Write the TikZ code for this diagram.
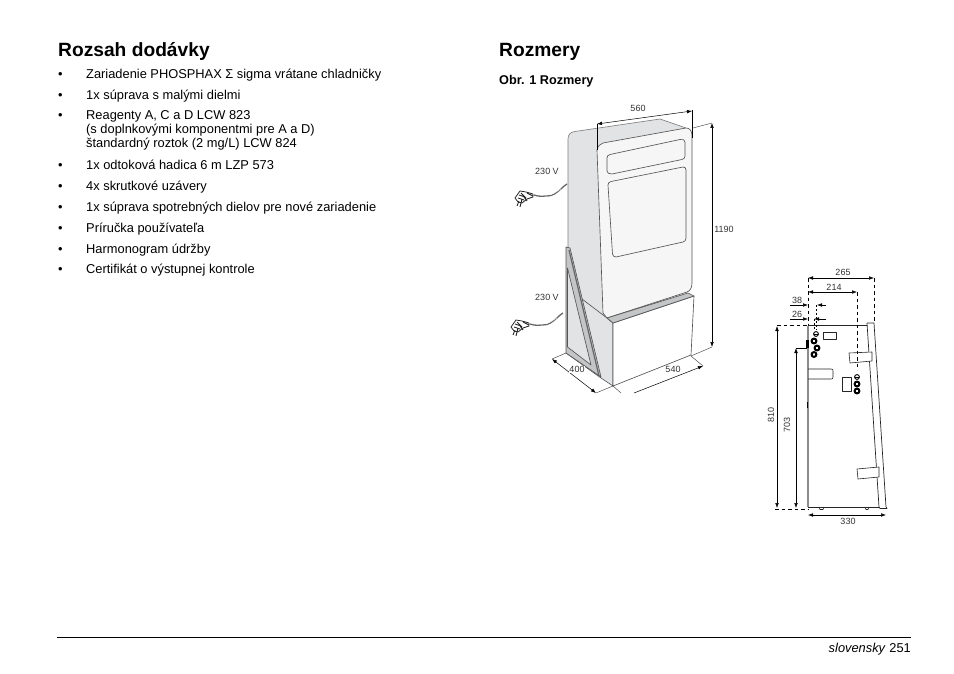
\documentclass[tikz,border=0pt]{standalone}
\usepackage{fontspec}
\setmainfont{Liberation Sans}
\usetikzlibrary{arrows.meta}
\definecolor{sidegrey}{HTML}{E2E3E5}
\definecolor{stripgrey}{HTML}{C4C5C7}
\definecolor{panelwhite}{HTML}{F6F6F6}
\definecolor{edgegrey}{HTML}{555555}
\tikzset{
  x=1pt,y=-1pt,
  head/.style={anchor=base west,font=\fontsize{19.2}{22}\selectfont\bfseries},
  body/.style={anchor=base west,font=\fontsize{12.85}{14}\selectfont,inner sep=0pt},
  bul/.style={anchor=base west,font=\fontsize{12.85}{14}\selectfont,inner sep=0pt},
  dimlab/.style={font=\fontsize{9}{10}\selectfont,text=black!80,inner sep=0pt},
  edge/.style={draw=edgegrey,line width=.65pt,line join=round},
  dimline/.style={draw=black,line width=.5pt,{Latex[length=5pt,width=3.6pt]}-{Latex[length=5pt,width=3.6pt]}},
  oneend/.style={draw=black,line width=.5pt,-{Latex[length=5pt,width=3.6pt]}},
  wit/.style={draw=black!80,line width=.4pt},
  dashline/.style={draw=black,line width=.6pt,dash pattern=on 3.5pt off 3pt},
  partline/.style={draw=black!85,line width=.6pt,line join=round},
  ring/.style={draw=black,line width=2pt,fill=white},
}
\newcommand{\plugat}[2]{%
  \begin{scope}[shift={(#1,#2)}]
    \draw[black!60,line width=1.3pt] (14,-1) .. controls (19,1) and (24,0) .. (27,0) .. controls (33,0) and (36,-3) .. (41,-7) .. controls (43,-9) and (45,-11) .. (47,-12);
    \draw[white,line width=.3pt] (24,0) -- (27,0) (30,-1) .. controls (33,-2) and (36,-4) .. (41,-7);
    \draw[black!85,line width=.8pt,fill=white,line join=round] (-5,2) -- (0,-5) -- (6,-4) -- (13,-2) -- (13,1) -- (7,3) -- (2,7) -- (-2,6) -- cycle;
    \draw[black!85,line width=.9pt] (-1,5) -- (-3,10) (2,3) -- (0,11) (4,1) -- (7,5) (-1,-1) -- (5,1) (1,-3) -- (6,2) (7,-3) -- (13,0) (-2,2) -- (4,4);
  \end{scope}}
\begin{document}
\begin{tikzpicture}
\useasboundingbox (0,0) rectangle (954,674);
% ---- left column text
\node[head,inner sep=0pt] (h1) at (58,56.6) {Rozsah dodávky};
\foreach \nm/\yy/\tx in {a/78.6/Zariadenie PHOSPHAX Σ sigma vrátane chladničky,
  b/99.6/1x súprava s malými dielmi,
  c/120/Reagenty A{,} C a D LCW 823,
  d/169.6/1x odtoková hadica 6 m LZP 573,
  e/190/4x skrutkové uzávery,
  f/211.6/1x súprava spotrebných dielov pre nové zariadenie,
  g/232.6/Príručka používateľa,
  h/253/Harmonogram údržby,
  i/273/Certifikát o výstupnej kontrole}{
  \node[bul] (bul\nm) at (58,\yy) {•};
  \node[body] (txt\nm) at (86,\yy) {\tx};
}
\node[body] (txtc2) at (86,134) {(s doplnkovými komponentmi pre A a D)};
\node[body] (txtc3) at (86,148) {štandardný roztok (2 mg/L) LCW 824};
% ---- right column
\node[head,inner sep=0pt] (h2) at (499,56.6) {Rozmery};
\node[anchor=base west,inner sep=0pt,font=\fontsize{12.7}{14}\selectfont\bfseries] (cap) at (499,84.7) {Obr. 1 Rozmery};
% plugs (behind the cabinet)
\plugat{520}{196}
\plugat{516}{325}
% ---- cabinet
\fill[sidegrey] (568,248) -- (568,139) .. controls (568,134) and (571,132) .. (575,131.5) -- (660,119) -- (686,128) -- (603,143) .. controls (600,144) and (598,146) .. (597,150) -- (607,318) -- (582,299) -- (582,340) -- (568,340) -- cycle;
\draw[edge,draw=black!50] (568,248) -- (568,139) .. controls (568,134) and (571,132) .. (575,131.5) -- (660,119) -- (686,128);
\draw[edge,fill=panelwhite] (597,150) .. controls (598,146) and (600,144) .. (603,143) -- (686,128) .. controls (690,128) and (692,131) .. (692,136) -- (692,283) .. controls (692,288) and (690,291) .. (687,292) -- (607,318) -- (603,313) -- cycle;
\draw[edge] (610,154.5) -- (680,139.5) .. controls (683,139) and (685,140) .. (685,142) -- (685,156) .. controls (685,158) and (684,159) .. (682,159.5) -- (612,174) .. controls (609,174) and (607,173) .. (607,171) -- (607,158) .. controls (607,156) and (608,155) .. (610,154.5) -- cycle;
\draw[edge] (611,181.5) -- (683,167) .. controls (685,167) and (686,168) .. (686,170) -- (686,238) .. controls (686,240) and (685,241.5) .. (683,242) -- (616,257) .. controls (614,257) and (613,256) .. (612.5,254) -- (608,185) .. controls (608,183) and (609,182) .. (611,181.5) -- cycle;
% ---- base
\draw[edge,fill=sidegrey] (582,299) -- (607,318) -- (613,323) -- (613,386) -- (601,378) -- (566,353) -- (582,340) -- cycle;
\draw[edge,fill=white] (613,323) -- (694,296) -- (691,355) -- (613,386) -- cycle;
\draw[edge,fill=stripgrey] (607,318) -- (688,293) -- (694,296) -- (613,323) -- cycle;
% triangular bracket
\draw[edge,fill=stripgrey] (566,247) -- (570,248) -- (601,377) -- (566,353) -- cycle;
\fill[sidegrey] (567.5,268) -- (591,365) -- (567.5,347) -- cycle;
\draw[edge] (567.5,268) -- (591,365) -- (567.5,347) -- cycle;
\draw[black!60,line width=1.2pt] (569,250) -- (599,376);
% ---- dimensions, 3-D view
\coordinate (d560a) at (597,124); \coordinate (d560b) at (692,111);
\draw[black,line width=.8pt] (d560a) -- (597,150) (692,110) -- (692,138);
\draw[dimline] (d560a) -- (d560b);
\node[dimlab] (l560) at (638,108) {560};
\coordinate (d1190a) at (712,123); \coordinate (d1190b) at (712,347);
\draw[wit] (693,128) -- (d1190a) (691,356) -- (d1190b);
\draw[dimline] (d1190a) -- (d1190b);
\node[dimlab] (l1190) at (724,229) {1190};
\coordinate (d400a) at (552,359); \coordinate (d400b) at (596,393);
\draw[wit] (566,353) -- (d400a) (613,386) -- (d400b) (613,386) -- (621,393);
\draw[dimline] (d400a) -- (d400b);
\node[dimlab,fill=white,inner sep=.5pt] (l400) at (577,369.5) {400};
\coordinate (d540a) at (634,393); \coordinate (d540b) at (703,366);
\draw[wit] (691,356) -- (d540b);
\draw[oneend] (d540a) -- (d540b);
\node[dimlab] (l540) at (673,369.5) {540};
\node[dimlab] (v1) at (547,171) {230 V};
\node[dimlab] (v2) at (547,297) {230 V};
% ---- side view
\draw[draw=black!45,line width=1.5pt] (808,326) -- (808,507);
\draw[partline,line width=.8pt] (808,325.5) -- (867,325.5) (808,507) -- (879,507);
\draw[partline,line width=.7pt] (867,323) -- (874,323) -- (886,507) -- (887,508.5) -- (880,508.5) -- (879,507) -- (867,323);
\draw[partline] (823,332) rectangle (836,339);
\draw[partline] (842,377) rectangle (851,391);
\draw[partline] (808,369) -- (831,369) .. controls (833,369) and (833,370) .. (833,371) -- (833,377) .. controls (833,379) and (832,379) .. (831,379) -- (808,379);
\draw[partline,fill=white] (849,353) -- (872,352) -- (872,361) -- (850,363) -- cycle;
\draw[partline,fill=white] (857,469) -- (879,467) -- (879,477) -- (858,479) -- cycle;
\draw[partline] (819,507) -- (820,509.5) -- (823,509.5) -- (824,507) (865,507) -- (866,509.5) -- (868,509.5) -- (869,507);
\fill[black] (806,340) rectangle (809,348);
\fill[black] (806.5,402) rectangle (808,408);
\draw[black,line width=.9pt,fill=white] (816,334) circle (2.4);
\draw[black,line width=.6pt] (813.6,334) -- (818.4,334);
\draw[ring] (814,341) circle (2.4);
\draw[ring] (817,348) circle (2.4);
\draw[ring] (814,354.5) circle (2.4);
\draw[black,line width=.9pt,fill=white] (857,377) circle (2.4);
\draw[black,line width=.6pt] (854.6,377) -- (859.4,377);
\draw[ring] (857,384) circle (2.4);
\draw[ring] (857,391) circle (2.4);
% dashed witness lines
\draw[dashline] (808,278) -- (808,325);
\draw[dashline] (874,278) -- (874,323);
\draw[dashline] (857,292) -- (857,370);
\draw[dashline,dash pattern=on 2pt off 2pt] (816.5,305) -- (816.5,330);
\draw[dashline,dash pattern=on 2pt off 2pt] (814,319) -- (814,330);
\draw[dashline] (777,325.5) -- (808,325.5);
\draw[dashline] (775,509) -- (808,509);
% dimension lines
\coordinate (s265a) at (808,278); \coordinate (s265b) at (874,278);
\draw[dimline] (s265a) -- (s265b);
\node[dimlab] (l265) at (843,272) {265};
\coordinate (s214a) at (808,292); \coordinate (s214b) at (857,292);
\draw[dimline] (s214a) -- (s214b);
\node[dimlab] (l214) at (834,287) {214};
\coordinate (s38a) at (790,305); \coordinate (s38b) at (808,305);
\coordinate (s38c) at (826,305); \coordinate (s38d) at (817,305);
\draw[oneend] (s38a) -- (s38b); \draw[oneend] (s38c) -- (s38d);
\node[dimlab] (l38) at (797,300) {38};
\coordinate (s26a) at (790,319); \coordinate (s26b) at (808,319);
\coordinate (s26c) at (826,319); \coordinate (s26d) at (814,319);
\draw[oneend] (s26a) -- (s26b); \draw[oneend] (s26c) -- (s26d);
\node[dimlab] (l26) at (797,314) {26};
\coordinate (s810a) at (777,326); \coordinate (s810b) at (777,508);
\draw[dimline] (s810a) -- (s810b);
\node[dimlab,rotate=90] (l810) at (771,415) {810};
\coordinate (s703a) at (796,348); \coordinate (s703b) at (796,508);
\draw[dimline] (s703a) -- (s703b);
\draw[black,line width=.5pt] (s703a) -- (807,348);
\node[dimlab,rotate=90] (l703) at (787,425) {703};
\coordinate (s330a) at (808,515); \coordinate (s330b) at (886,515);
\draw[dimline] (s330a) -- (s330b);
\node[dimlab] (l330) at (848,521) {330};
% ---- footer
\coordinate (ruleL) at (57,637.5); \coordinate (ruleR) at (911,637.5);
\draw[black,line width=.9pt] (ruleL) -- (ruleR);
\node[anchor=base east,inner sep=0pt,font=\fontsize{12.85}{14}\selectfont] (foot) at (911,652.6) {\textit{slovensky} 251};
\end{tikzpicture}
\end{document}
